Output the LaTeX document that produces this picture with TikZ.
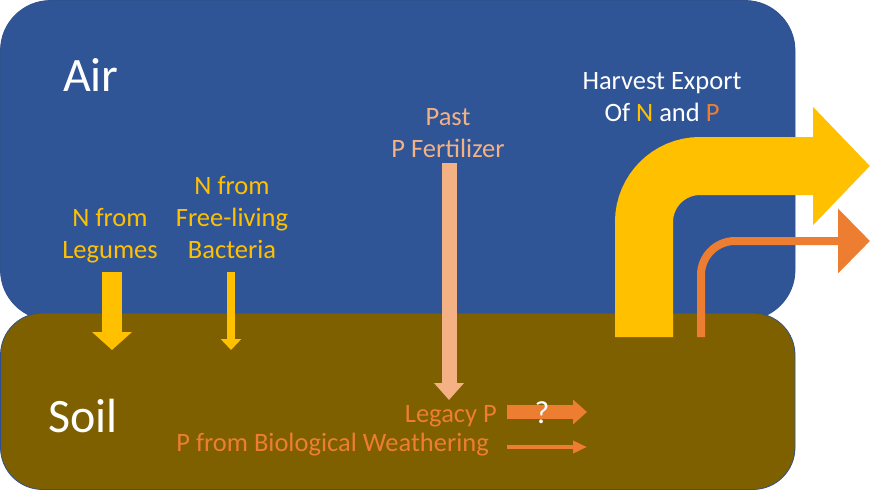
\documentclass[tikz,border=0pt]{standalone}
\usepackage{fontspec}
\setmainfont{Carlito}
\usepackage{tikz}
\usetikzlibrary{arrows.meta,positioning}
\definecolor{airblue}{HTML}{2F5597}
\definecolor{soilbrown}{HTML}{7F6000}
\definecolor{boxline}{HTML}{2F528F}
\definecolor{nyellow}{HTML}{FFC000}
\definecolor{porange}{HTML}{ED7D31}
\definecolor{psalmon}{HTML}{F4B183}
\tikzstyle{layer} = [draw=boxline, line width=0.8pt]
\tikzstyle{bigword} = [text=white, font=\fontsize{48}{58}\selectfont, inner sep=0pt, anchor=base west]
\tikzstyle{tag} = [font=\fontsize{26.5}{32}\selectfont, align=center, inner sep=0pt, anchor=base]
\tikzstyle{bigflow} = [nyellow, line width=58pt, rounded corners=56pt, -{Triangle[length=57pt, width=115pt]}]
\tikzstyle{smallflow} = [porange, line width=8pt, rounded corners=34pt, -{Triangle[length=32pt, width=63pt]}]

\begin{document}
\begin{tikzpicture}[x=1pt, y=-1pt] % one unit is one pixel of the reference
\useasboundingbox (0,0) rectangle (871,490);

% Air and soil
\draw [layer, fill=airblue, rounded corners=50pt] (0.5,0.5) rectangle (795,320);
\draw [layer, fill=soilbrown, rounded corners=42pt] (0.5,313) rectangle (795,489.5);

% Place the nodes (base = last line)
\node (air)        [bigword]                          at (63,91)   {Air};
\node (soil)       [bigword]                          at (48,432)  {Soil};
\node (legumes)    [tag, text=nyellow]                at (110,258) {N from\\Legumes};
\node (bacteria)   [tag, text=nyellow]                at (232,258) {N from\\Free-living\\Bacteria};
\node (fertilizer) [tag, text=psalmon]                at (448,157) {Past\\P Fertilizer};
\node (harvest)    [tag, text=white]                  at (662,121) {Harvest Export\\Of {\color{nyellow}N} and {\color{porange}P}};
\node (legacy)     [tag, text=porange, anchor=base east] at (497,422) {Legacy P};
\node (weathering) [tag, text=porange, anchor=base east] at (489,451) {P from Biological Weathering};

% Ends of the flows
\coordinate (legumes_end)    at (112,350);
\coordinate (bacteria_end)   at (231,350);
\coordinate (fertilizer_end) at (449,400);
\coordinate (legacy_end)     at (587,412);
\coordinate (weather_end)    at (587,447);
\coordinate (n_out_start)    at (644,337);
\coordinate (n_out_end)      at (870,166);
\coordinate (p_out_start)    at (701,337);
\coordinate (p_out_end)      at (870,241);

% Connect the nodes with arrows
\draw [nyellow, line width=20pt, -{Triangle[length=18pt, width=39pt]}] (legumes_end |- 0,272)  -- (legumes_end);
\draw [nyellow, line width=8pt,  -{Triangle[length=11pt, width=20pt]}] (bacteria_end |- 0,272) -- (bacteria_end);
\draw [psalmon, line width=15pt, -{Triangle[length=17pt, width=29pt]}] (fertilizer_end |- 0,163) -- (fertilizer_end);
\draw [porange, line width=14pt, -{Triangle[length=14pt, width=24pt]}] (legacy.east |- legacy_end) ++(10,0) -- (legacy_end);
\draw [porange, line width=4pt,  -{Triangle[length=14pt, width=12pt]}] (weathering.east |- weather_end) ++(18,0) -- (weather_end);
\draw [bigflow]   (n_out_start) |- (n_out_end);
\draw [smallflow] (p_out_start) |- (p_out_end);

\node (unknown) [tag, text=white, font=\fontsize{32}{36}\selectfont] at (542,423) {?};

\end{tikzpicture}
\end{document}
